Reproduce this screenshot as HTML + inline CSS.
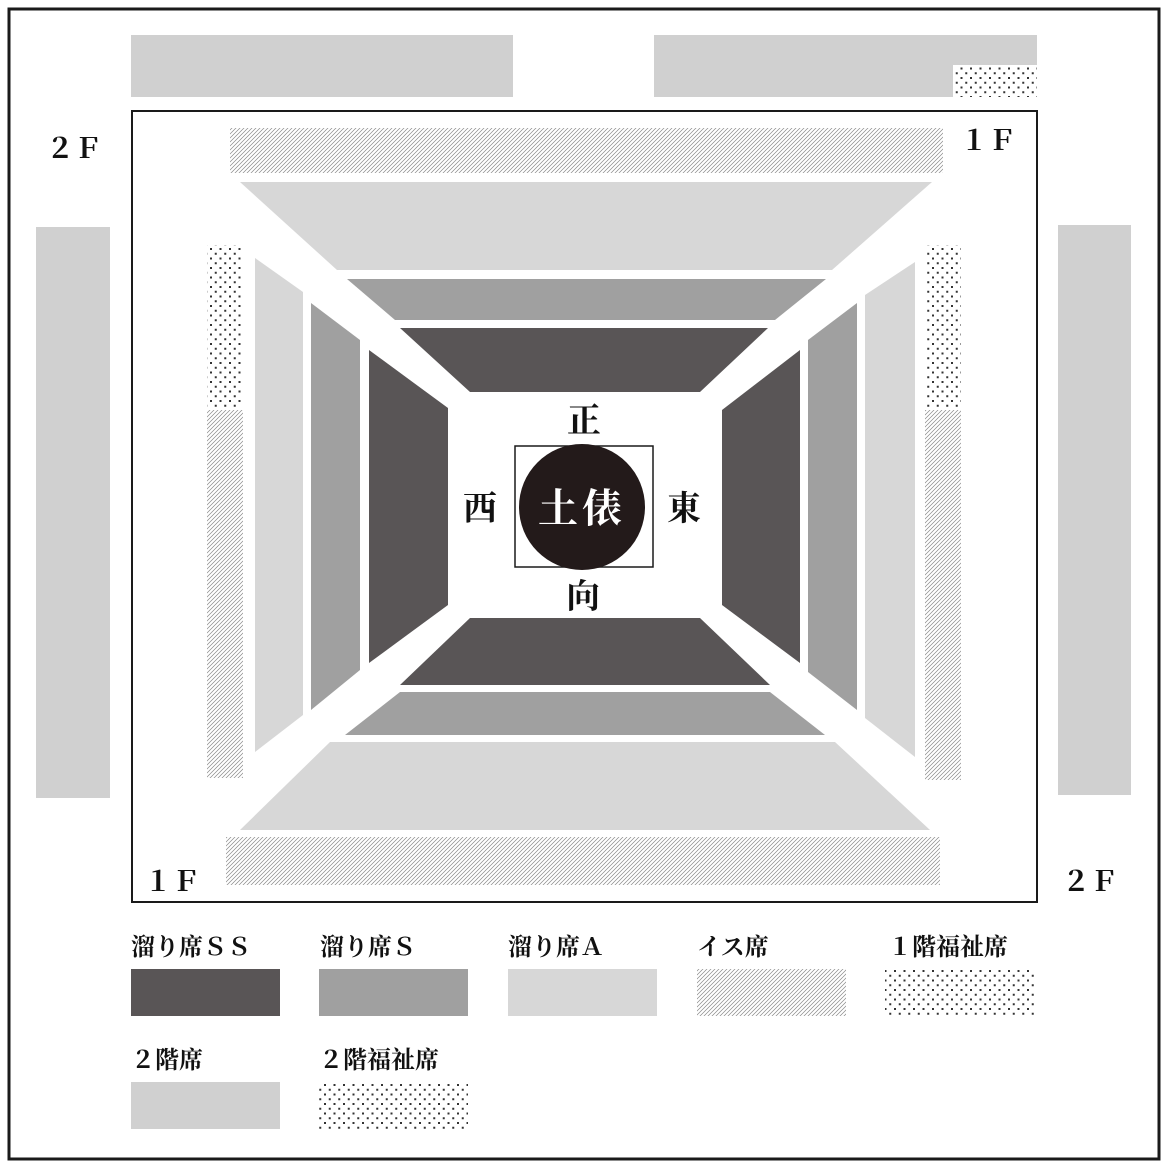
<!DOCTYPE html>
<html><head><meta charset="utf-8"><style>
html,body{margin:0;padding:0;background:#fff;width:1168px;height:1167px;overflow:hidden}
svg{display:block}
text{font-family:"Liberation Serif","Noto Serif CJK SC",serif;font-weight:bold}
</style></head><body>
<svg width="1168" height="1167" viewBox="0 0 1168 1167" xmlns="http://www.w3.org/2000/svg">
<defs>
<pattern id="h" width="4" height="4" patternUnits="userSpaceOnUse">
<rect width="4" height="4" fill="#fff"/>
<path d="M-1,5 L5,-1 M-1,1 L1,-1 M3,5 L5,3" stroke="#888" stroke-width="0.7"/>
</pattern>
<pattern id="d" width="9.5" height="9.5" patternUnits="userSpaceOnUse">
<rect width="9.5" height="9.5" fill="#fff"/>
<rect x="1" y="1" width="2" height="2" fill="#333"/>
<rect x="5.75" y="5.75" width="2" height="2" fill="#333"/>
</pattern>
</defs>
<rect x="0" y="0" width="1168" height="1167" fill="#fff"/>
<rect x="9" y="9" width="1150" height="1150" fill="none" stroke="#1a1a1a" stroke-width="3"/>
<rect x="131" y="35" width="382" height="62" fill="#d0d0d0"/>
<rect x="654" y="35" width="383" height="62" fill="#d0d0d0"/>
<rect x="953" y="65" width="84" height="32" fill="url(#d)"/>
<rect x="36" y="227" width="74" height="571" fill="#d0d0d0"/>
<rect x="1058" y="225" width="73" height="570" fill="#d0d0d0"/>
<rect x="132" y="111" width="905" height="791" fill="none" stroke="#1a1a1a" stroke-width="2"/>
<rect x="230" y="128" width="713" height="45" fill="url(#h)"/>
<rect x="226" y="837" width="714" height="48" fill="url(#h)"/>
<rect x="207" y="245" width="36" height="162" fill="url(#d)"/>
<rect x="207" y="410" width="36" height="368" fill="url(#h)"/>
<rect x="925" y="245" width="36" height="162" fill="url(#d)"/>
<rect x="925" y="410" width="36" height="370" fill="url(#h)"/>
<polygon points="240,182 932,182 832,270 337,270" fill="#d7d7d7"/>
<polygon points="347,279 826,279 775,320 395,320" fill="#a0a0a0"/>
<polygon points="400,328 768,328 700,392 470,392" fill="#595556"/>
<polygon points="470,618 700,618 770,685 400,685" fill="#595556"/>
<polygon points="400,692 770,692 825,735 345,735" fill="#a0a0a0"/>
<polygon points="330,742 835,742 930,830 240,830" fill="#d7d7d7"/>
<polygon points="255,258 303,292 303,715 255,752" fill="#d7d7d7"/>
<polygon points="311,303 360,340 360,670 311,710" fill="#a0a0a0"/>
<polygon points="369,350 448,408 448,605 369,663" fill="#595556"/>
<polygon points="722,410 800,350 800,663 722,605" fill="#595556"/>
<polygon points="808,340 857,303 857,710 808,672" fill="#a0a0a0"/>
<polygon points="865,295 915,262 915,757 865,718" fill="#d7d7d7"/>
<rect x="515" y="446" width="138" height="121" fill="none" stroke="#1a1a1a" stroke-width="1.5"/>
<circle cx="582" cy="507" r="63" fill="#231a1a"/>
<text x="582" y="522" font-size="40" fill="#fff" text-anchor="middle" letter-spacing="4">土俵</text>
<text x="584" y="432" font-size="34" fill="#111" text-anchor="middle">正</text>
<text x="480" y="520" font-size="34" fill="#111" text-anchor="middle">西</text>
<text x="684" y="520" font-size="34" fill="#111" text-anchor="middle">東</text>
<text x="583" y="608" font-size="34" fill="#111" text-anchor="middle">向</text>
<text x="46" y="158" font-size="28" fill="#111">２Ｆ</text>
<text x="960" y="150" font-size="28" fill="#111">１Ｆ</text>
<text x="144" y="891" font-size="28" fill="#111">１Ｆ</text>
<text x="1062" y="891" font-size="28" fill="#111">２Ｆ</text>
<g font-size="24" fill="#111">
<text x="131" y="955">溜り席ＳＳ</text>
<text x="320" y="955">溜り席Ｓ</text>
<text x="508" y="955">溜り席Ａ</text>
<text x="697" y="955">イス席</text>
<text x="888" y="955">１階福祉席</text>
<text x="131" y="1068">２階席</text>
<text x="319" y="1068">２階福祉席</text>
</g>
<rect x="131" y="969" width="149" height="47" fill="#595556"/>
<rect x="319" y="969" width="149" height="47" fill="#a0a0a0"/>
<rect x="508" y="969" width="149" height="47" fill="#d7d7d7"/>
<rect x="697" y="969" width="149" height="47" fill="url(#h)"/>
<rect x="885" y="969" width="149" height="47" fill="url(#d)"/>
<rect x="131" y="1082" width="149" height="47" fill="#d0d0d0"/>
<rect x="319" y="1082" width="149" height="47" fill="url(#d)"/>
</svg>
</body></html>
